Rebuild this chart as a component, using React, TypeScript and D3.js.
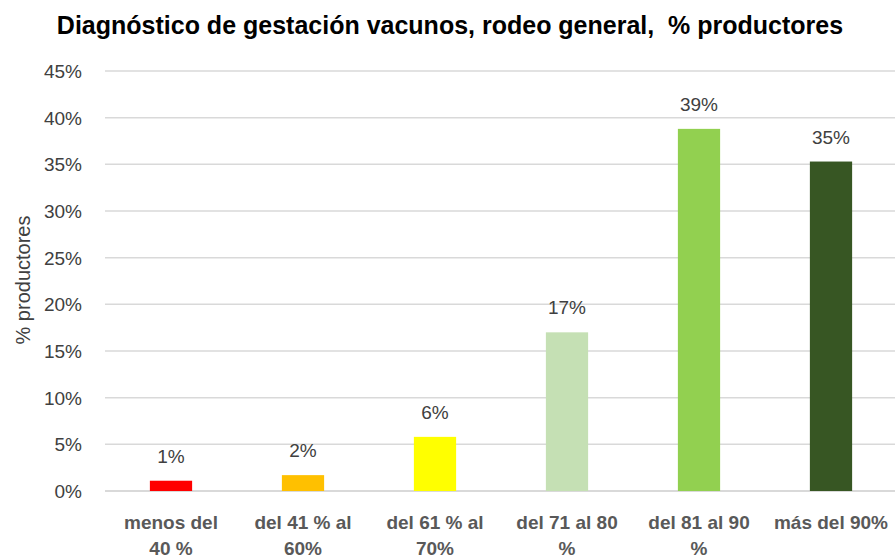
import React from 'react';
import * as d3 from 'd3';

// categorias (dos lineas cada una, como en el grafico original)
const categories = ['menos del 40 %', 'del 41 % al 60%', 'del 61 % al 70%', 'del 71 al 80 %', 'del 81 al 90 %', 'más del 90%'];
const labelLines = [
  ['menos del', '40 %'],
  ['del 41 % al', '60%'],
  ['del 61 % al', '70%'],
  ['del 71 al 80', '%'],
  ['del 81 al 90', '%'],
  ['más del 90%', ''],
];
const values = [1.1, 1.7, 5.8, 17.0, 38.8, 35.3];
const valueLabels = ['1%', '2%', '6%', '17%', '39%', '35%'];
const barColors = ['#FF0000', '#FFC000', '#FFFF00', '#C5E0B4', '#92D050', '#375623'];
const yTicks = [0, 5, 10, 15, 20, 25, 30, 35, 40, 45];

const W = 895;
const H = 560;
const font = '"Liberation Sans", Arial, sans-serif';

export default function App() {
  const left = 105;
  const right = 897;
  const top = 71;
  const bottom = 491;

  const x = d3.scaleBand<string>().domain(categories).range([left, right]).paddingInner(0.68).paddingOuter(0.34);
  const y = d3.scaleLinear().domain([0, 45]).range([bottom, top]);

  return (
    <svg width={W} height={H} style={{ position: 'absolute', left: 0, top: 0, background: '#fff' }}>
      <text x={450} y={34} textAnchor="middle" fontFamily={font} fontWeight="bold" fontSize={25} fill="#000" style={{ whiteSpace: 'pre' }}>
        {'Diagnóstico de gestación vacunos, rodeo general,  % productores'}
      </text>

      {yTicks.map(t => (
        <g key={t}>
          <line x1={left} x2={W} y1={y(t)} y2={y(t)} stroke="#d9d9d9" strokeWidth={t === 0 ? 2 : 1.5} />
          <text x={82} y={y(t) + 7} textAnchor="end" fontFamily={font} fontSize={19} fill="#404040">
            {t}%
          </text>
        </g>
      ))}

      <text
        transform={`translate(30,${280}) rotate(-90)`}
        textAnchor="middle"
        fontFamily={font}
        fontSize={20}
        fill="#404040"
      >
        % productores
      </text>

      {categories.map((c, i) => {
        const bx = x(c)!;
        const bw = x.bandwidth();
        const cx = bx + bw / 2;
        return (
          <g key={c}>
            <rect x={bx} y={y(values[i])} width={bw} height={bottom - y(values[i])} fill={barColors[i]} />
            <text x={cx} y={y(values[i]) - 18} textAnchor="middle" fontFamily={font} fontSize={19} fill="#404040">
              {valueLabels[i]}
            </text>
            {labelLines[i].map((ln, j) => (
              <text key={j} x={cx} y={529 + j * 26} textAnchor="middle" fontFamily={font} fontWeight="bold" fontSize={19} fill="#595959">
                {ln}
              </text>
            ))}
          </g>
        );
      })}
    </svg>
  );
}
